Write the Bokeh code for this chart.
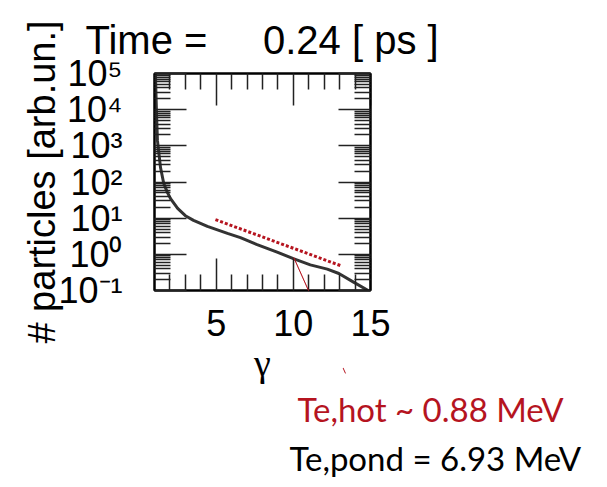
from bokeh.plotting import figure
from bokeh.models import (Arrow, NormalHead, FixedTicker, LinearAxis, LogAxis,
                          CustomJSTickFormatter, Range1d, PolyAnnotation, Title)
from bokeh.embed import file_html
from bokeh.resources import INLINE

# ---------------- data ----------------
gamma = [1.06, 1.13, 1.19, 1.39, 1.60, 1.84, 2.04, 2.5, 3.0, 3.53, 4.43, 5.73,
         6.57, 7.65, 8.95, 10.0, 11.1, 12.2, 12.95, 13.9, 14.85]
particles = [1e5, 7943, 1413, 251, 91, 51, 34.7, 18.6, 11.7, 8.7, 5.9, 3.8,
             2.9, 1.86, 1.15, 0.76, 0.51, 0.39, 0.295, 0.17, 0.1]
fit_gamma = [4.95, 13.16]
fit_particles = [9.1, 0.47]
arrow_gamma = [10.03, 13.38]
arrow_particles = [0.81, 5.1e-4]
x_major = [5, 10, 15]
x_minor = [2, 3, 4, 6, 7, 8, 9, 11, 12, 13, 14]
decades = [-1, 0, 1, 2, 3, 4, 5]
title_text = "Time =" + "\u00a0" * 5 + "0.24 [ ps ]"
y_title = "# particles [arb.un.]"
x_title = "\u03b3"
hot_text = "Te,hot ~ 0.88 MeV"
pond_text = "Te,pond = 6.93 MeV"

RED = "#b5141f"
INK = "#222222"
FONT = "Liberation Sans"
GILL = "Lato"

# frame geometry (page pixels)
FXL, FXR, FYT, FYB = 154, 370, 73, 290
W, H = 600, 487

p = figure(width=W, height=H, output_backend="svg", toolbar_location=None,
           y_axis_type="log", x_range=Range1d(1, 15), y_range=Range1d(0.1, 1e5),
           min_border_left=FXL, min_border_right=W - FXR, min_border_top=FYT,
           min_border_bottom=H - FYB)
p.grid.visible = False
p.outline_line_color = "black"
p.outline_line_width = 2

blank = CustomJSTickFormatter(code="return ''")
pow10 = CustomJSTickFormatter(code="""
const sup = {"-": "\u207b", "0": "\u2070", "1": "\u00b9", "2": "\u00b2", "3": "\u00b3",
             "4": "\u2074", "5": "\u2075", "6": "\u2076", "7": "\u2077", "8": "\u2078", "9": "\u2079"};
const e = Math.round(Math.log10(tick)).toString();
return "10" + e.split("").map(c => sup[c]).join("");
""")
yt = FixedTicker(ticks=[10.0 ** k for k in decades],
                 minor_ticks=[m * 10.0 ** k for k in decades[:-1] for m in range(2, 10)])
xt = FixedTicker(ticks=x_major, minor_ticks=x_minor)


def style(ax):
    ax.axis_line_color = "black"
    ax.axis_line_width = 2
    ax.major_tick_line_color = INK
    ax.minor_tick_line_color = INK
    ax.major_tick_line_width = 1.5
    ax.minor_tick_line_width = 1.5
    ax.major_tick_in = 32
    ax.major_tick_out = 0
    ax.minor_tick_in = 16
    ax.minor_tick_out = 0
    ax.major_label_text_font = FONT
    ax.major_label_text_color = "black"
    ax.axis_label_text_font = FONT
    ax.axis_label_text_font_style = "normal"
    ax.axis_label_text_color = "black"


xa = p.xaxis[0]
xa.ticker = xt
style(xa)
xa.major_label_text_font_size = "36px"
xa.major_label_standoff = 19
xa.axis_label = x_title
xa.axis_label_text_font = "Liberation Serif"
xa.axis_label_text_font_size = "38px"
xa.axis_label_standoff = 3

ya = p.yaxis[0]
ya.ticker = yt
style(ya)
ya.formatter = pow10
ya.major_label_text_font_size = "36px"
ya.major_label_standoff = 32
ya.axis_label = y_title
ya.axis_label_text_font_size = "38px"
ya.axis_label_standoff = -8

top = LinearAxis(ticker=xt, formatter=blank)
style(top)
top.major_label_standoff = 0
p.add_layout(top, "above")
right = LogAxis(ticker=yt, formatter=blank)
style(right)
p.add_layout(right, "right")

p.title.text = title_text
p.title.text_font = FONT
p.title.text_font_size = "40px"
p.title.text_font_style = "normal"
p.title.text_color = "black"
p.title.align = "left"
p.title.offset = 85 - FXL
p.title.standoff = 24

# explanatory lines below the plot
p.add_layout(Title(text=hot_text, text_font=GILL, text_font_size="33px",
                   text_font_style="normal", text_color=RED, align="left",
                   offset=297 - FXL, standoff=0), "below")
p.add_layout(Title(text=pond_text, text_font=GILL, text_font_size="33px",
                   text_font_style="normal", text_color="black", align="left",
                   offset=289 - FXL, standoff=14), "below")

# curve and fit line
p.line(gamma, particles, line_color="#333333", line_width=3)
p.line(fit_gamma, fit_particles, line_color=RED, line_width=3, line_dash="3 2")

# arrow from the curve towards the annotation text
p.add_layout(PolyAnnotation(xs=arrow_gamma, ys=arrow_particles, line_color=RED,
                            line_width=1, fill_color=None), "below")
p.add_layout(Arrow(x_start=arrow_gamma[0], y_start=arrow_particles[0],
                   x_end=arrow_gamma[1], y_end=arrow_particles[1],
                   line_color=RED, line_width=1,
                   end=NormalHead(size=6, fill_color=RED, line_color=RED)))

open("out.html", "w").write(file_html(p, INLINE))
